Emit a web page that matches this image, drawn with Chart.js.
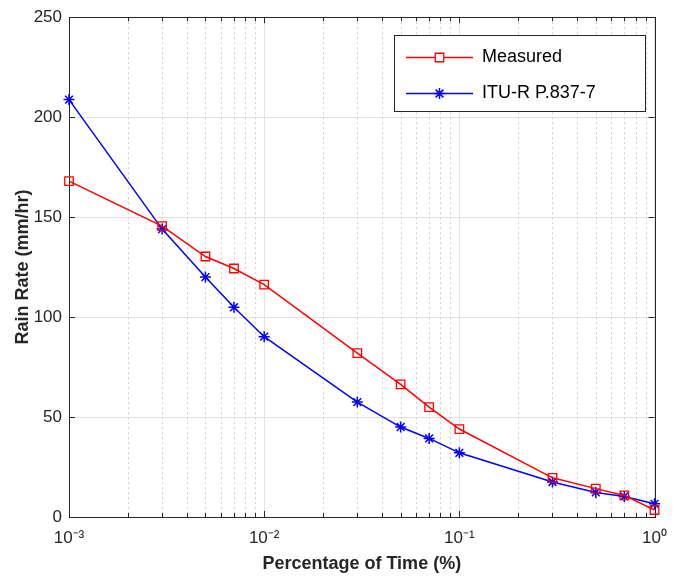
<!DOCTYPE html>
<html><head><meta charset="utf-8">
<script src="https://cdn.jsdelivr.net/npm/chart.js@4.4.0/dist/chart.umd.min.js"></script>
<style>html,body{margin:0;padding:0;background:#fff}#wrap{width:678px;height:577px;position:relative}canvas{display:block}</style>
</head><body><div id="wrap"><canvas id="c" width="678" height="577"></canvas></div>
<script>
// ---- data ----
const percentTime = [0.001, 0.003, 0.005, 0.007, 0.01, 0.03, 0.05, 0.07, 0.1, 0.3, 0.5, 0.7, 1];
const measured    = [168, 145.5, 130.3, 124.3, 116.2, 82, 66.3, 55, 44, 19.6, 14.2, 10.8, 3.5];
const ituR        = [208.8, 144, 120, 104.9, 90.2, 57.5, 45, 39.3, 32.1, 17.5, 12.3, 10.3, 6.6];
const seriesNames = ['Measured', 'ITU-R P.837-7'];
const xTickValues = [0.001, 0.01, 0.1, 1];
const xTickLabels = ['10⁻³', '10⁻²', '10⁻¹', '10⁰'];
const xMinorMultipliers = [2, 3, 4, 5, 6, 7, 8, 9];
const yTickValues = [0, 50, 100, 150, 200, 250];
const xTitle = 'Percentage of Time (%)';
const yTitle = 'Rain Rate (mm/hr)';

const AXIS = '#262626';
const FONT = "'Liberation Sans', Arial, Helvetica, sans-serif";

const toPoints = (xs, ys) => xs.map((x, i) => ({x: x, y: ys[i]}));

const matlabAxes = {
  id: 'matlabAxes',
  beforeDatasetsDraw(chart) {
    const {ctx, chartArea: a, scales: {x, y}} = chart;
    ctx.save();
    // minor dotted grid
    ctx.strokeStyle = '#cfcfcf';
    ctx.lineWidth = 1;
    ctx.setLineDash([2, 3]);
    for (let d = 0; d < xTickValues.length - 1; d++) {
      for (const m of xMinorMultipliers) {
        const px = Math.round(x.getPixelForValue(xTickValues[d] * m)) + 0.5;
        ctx.beginPath(); ctx.moveTo(px, a.top); ctx.lineTo(px, a.bottom); ctx.stroke();
      }
    }
    ctx.setLineDash([]);
    // box
    ctx.strokeStyle = AXIS;
    ctx.lineWidth = 1;
    ctx.strokeRect(Math.round(a.left) + 0.5, Math.round(a.top) + 0.5, Math.round(a.right - a.left), Math.round(a.bottom - a.top));
    // inward ticks
    ctx.beginPath();
    for (let d = 0; d < xTickValues.length; d++) {
      const px = Math.round(x.getPixelForValue(xTickValues[d])) + 0.5;
      ctx.moveTo(px, a.bottom); ctx.lineTo(px, a.bottom - 6);
      ctx.moveTo(px, a.top); ctx.lineTo(px, a.top + 6);
      if (d < xTickValues.length - 1) {
        for (const m of xMinorMultipliers) {
          const qx = Math.round(x.getPixelForValue(xTickValues[d] * m)) + 0.5;
          ctx.moveTo(qx, a.bottom); ctx.lineTo(qx, a.bottom - 4);
          ctx.moveTo(qx, a.top); ctx.lineTo(qx, a.top + 4);
        }
      }
    }
    for (const v of yTickValues) {
      const py = Math.round(y.getPixelForValue(v)) + 0.5;
      ctx.moveTo(a.left, py); ctx.lineTo(a.left + 6, py);
      ctx.moveTo(a.right, py); ctx.lineTo(a.right - 6, py);
    }
    ctx.stroke();
    ctx.restore();
  },
  afterLayout(chart) {
    const lg = chart.legend;
    if (lg) { lg.left = 388; lg.top = 30.5; }
  },
  afterDatasetsDraw(chart) {
    const {ctx} = chart;
    ctx.save();
    ctx.fillStyle = '#ffffff';
    ctx.fillRect(394.5, 35.5, 251, 76);
    ctx.strokeStyle = AXIS;
    ctx.lineWidth = 1;
    ctx.strokeRect(394.5, 35.5, 251, 76);
    ctx.restore();
    // draw the library legend on top of its box
    if (chart.legend) chart.legend.draw();
  },
  afterDraw(chart) {
    const lg = chart.legend;
    if (!lg) return;
    const o = lg.options.labels;
    const fs = o.font.size;
    chart.data.datasets.forEach((ds, i) => {
      const cx = lg.left + o.padding + o.boxWidth / 2;
      const cy = lg.top + o.padding + i * (fs + o.padding) + fs / 2;
      chart.ctx.save();
      chart.ctx.strokeStyle = ds.borderColor;
      chart.ctx.fillStyle = '#ffffff';
      chart.ctx.lineWidth = ds.pointBorderWidth;
      Chart.helpers.drawPoint(chart.ctx, {pointStyle: ds.pointStyle, radius: ds.pointRadius, rotation: 0, borderWidth: ds.pointBorderWidth}, cx, cy);
      chart.ctx.restore();
    });
  }
};

new Chart(document.getElementById('c'), {
  type: 'line',
  data: {
    datasets: [
      {
        label: seriesNames[0],
        data: toPoints(percentTime, measured),
        borderColor: '#ff0000',
        backgroundColor: 'rgba(0,0,0,0)',
        borderWidth: 1.5,
        pointStyle: 'rect',
        pointRadius: 6,
        pointBorderWidth: 1.3,
        pointBackgroundColor: 'rgba(0,0,0,0)',
        pointBorderColor: '#ff0000',
        tension: 0,
        clip: false
      },
      {
        label: seriesNames[1],
        data: toPoints(percentTime, ituR),
        borderColor: '#0000ff',
        backgroundColor: 'rgba(0,0,0,0)',
        borderWidth: 1.5,
        pointStyle: 'star',
        pointRadius: 5.5,
        pointBorderWidth: 1.5,
        pointBackgroundColor: 'rgba(0,0,0,0)',
        pointBorderColor: '#0000ff',
        tension: 0,
        clip: false
      }
    ]
  },
  options: {
    responsive: false,
    devicePixelRatio: 1,
    animation: false,
    events: [],
    layout: {padding: {left: 0, top: 13, right: 13, bottom: 0}},
    plugins: {
      tooltip: {enabled: false},
      legend: {
        display: true,
        position: 'chartArea',
        align: 'start',
        labels: {
          font: {family: FONT, size: 18},
          color: '#000000',
          boxWidth: 67,
          boxHeight: 0,
          padding: 18,
          generateLabels(chart) {
            return chart.data.datasets.map((ds, i) => ({
              text: ds.label,
              fillStyle: ds.borderColor,
              strokeStyle: ds.borderColor,
              lineWidth: 1.5,
              hidden: false,
              datasetIndex: i,
              fontColor: '#000000'
            }));
          }
        }
      }
    },
    scales: {
      x: {
        type: 'logarithmic',
        min: 0.001,
        max: 1,
        afterBuildTicks(scale) { scale.ticks = xTickValues.map(v => ({value: v, major: true})); },
        afterFit(scale) { scale.height = 60; },
        ticks: {
          autoSkip: false, maxRotation: 0, minRotation: 0,
          padding: 11,
          color: AXIS,
          font: {family: FONT, size: 17},
          callback(value, index) { return xTickLabels[index]; }
        },
        grid: {color: '#e3e3e3', lineWidth: 1, drawTicks: false},
        border: {display: false},
        title: {display: true, text: xTitle, color: AXIS, font: {family: FONT, size: 18, weight: 'bold'}, padding: {top: 0, bottom: 2}}
      },
      y: {
        min: 0,
        max: 250,
        afterBuildTicks(scale) { scale.ticks = yTickValues.map(v => ({value: v})); },
        afterFit(scale) { scale.width = 69; },
        ticks: {
          padding: 7,
          color: AXIS,
          font: {family: FONT, size: 17}
        },
        grid: {color: '#e3e3e3', lineWidth: 1, drawTicks: false},
        border: {display: false},
        title: {display: true, text: yTitle, color: AXIS, font: {family: FONT, size: 18, weight: 'bold'}, padding: {top: 12, bottom: 0}}
      }
    }
  },
  plugins: [matlabAxes]
});
</script>
</body></html>
